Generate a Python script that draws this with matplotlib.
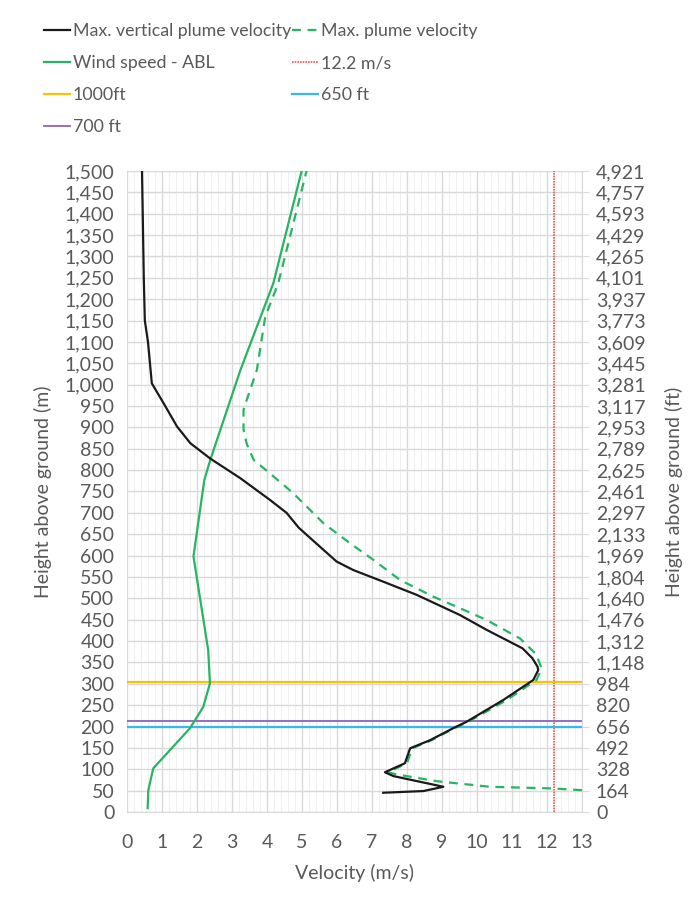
import numpy as np
import matplotlib.pyplot as plt
from matplotlib.ticker import MultipleLocator, FixedLocator, FuncFormatter

plt.rcParams['font.family'] = ['Lato', 'DejaVu Sans']

# Max. vertical plume velocity (m/s) vs height (m)
vert_h = [45, 49, 59, 84, 93, 114, 149, 168, 196, 211, 262, 309, 332, 340, 360, 383, 426,
          461, 508, 539, 566, 586, 621, 665, 700, 730, 781, 827, 863, 902, 956, 1003,
          1100, 1150, 1250, 1350, 1450, 1500]
vert_v = [7.32, 8.47, 9.04, 7.61, 7.37, 7.94, 8.09, 8.66, 9.32, 9.7, 10.75, 11.61, 11.75,
          11.73, 11.58, 11.3, 10.28, 9.51, 8.28, 7.32, 6.47, 5.99, 5.51, 4.91, 4.56, 4.09, 3.24,
          2.38, 1.81, 1.43, 1.05, 0.71, 0.6, 0.51, 0.48, 0.46, 0.44, 0.43]

# Max. plume velocity (m/s)
plume_h = [51, 55, 59, 72, 88, 93, 114, 149, 168, 196, 211, 262, 309, 336, 370, 406, 449,
           477, 504, 543, 590, 629, 676, 746, 785, 824, 862, 894, 941, 964, 1034, 1159,
           1237, 1500]
plume_v = [13.0, 12.18, 10.37, 8.85, 7.7, 7.45, 8.0, 8.15, 8.7, 9.35, 9.75, 10.85, 11.7,
           11.85, 11.68, 11.23, 10.28, 9.51, 8.75, 7.8, 7.04, 6.37, 5.61, 4.75, 4.19, 3.62, 3.42,
           3.33, 3.33, 3.42, 3.71, 3.95, 4.32, 5.13]

# Wind speed - ABL (m/s)
wind_h = [9, 51, 102, 196, 246, 301, 379, 598, 777, 824, 1034, 1237, 1500]
wind_v = [0.59, 0.61, 0.75, 1.8, 2.18, 2.37, 2.32, 1.9, 2.21, 2.38, 3.24, 4.18, 4.99]

limit_speed = 12.2
h_1000ft = 1000 * 0.3048
h_650ft = 650 * 0.3048
h_700ft = 700 * 0.3048

grey = '#595959'
fs = 14

fig = plt.figure(figsize=(6.95, 9), dpi=100)
ax = fig.add_axes([0.1827, 0.0978, 0.6547, 0.7122])

l_vert, = ax.plot(vert_v, vert_h, color='#1a1a1a', lw=1.6, label='Max. vertical plume velocity', zorder=5)
l_plume, = ax.plot(plume_v, plume_h, color='#27b463', lw=1.6, ls=(0, (4, 3)), label='Max. plume velocity', zorder=4)
l_wind, = ax.plot(wind_v, wind_h, color='#27b463', lw=1.6, label='Wind speed - ABL', zorder=4)
l_lim = ax.axvline(limit_speed, color='#ff5050', lw=1.2, ls=(0, (1, 0.6)), label='12.2 m/s', zorder=3)
l_1000 = ax.axhline(h_1000ft, color='#ffc000', lw=1.6, label='1000ft', zorder=3)
l_650 = ax.axhline(h_650ft, color='#36b9f2', lw=1.6, label='650 ft', zorder=3)
l_700 = ax.axhline(h_700ft, color='#8e63b8', lw=1.3, label='700 ft', zorder=3)

ax.set_xlim(0, 13)
ax.set_ylim(0, 1500)
ax.xaxis.set_major_locator(MultipleLocator(1))
ax.xaxis.set_minor_locator(MultipleLocator(0.2))
ax.yaxis.set_major_locator(MultipleLocator(50))
ax.yaxis.set_major_formatter(FuncFormatter(lambda v, p: f'{int(v):,}'))
ax.grid(which='major', color='#d9d9d9', lw=1.0)
ax.grid(which='minor', axis='x', color='#f0f0f0', lw=0.8)
ax.set_axisbelow(True)
for s in ['top', 'right', 'left']:
    ax.spines[s].set_visible(False)
ax.spines['bottom'].set_color('#d9d9d9')
ax.tick_params(which='both', length=0, colors=grey, labelsize=fs)
ax.tick_params(axis='x', pad=16)
ax.tick_params(axis='y', pad=9)
ax.set_xlabel('Velocity (m/s)', color=grey, fontsize=fs, labelpad=9)
ax.set_ylabel('Height above ground (m)', color=grey, fontsize=fs, labelpad=9)

ax2 = ax.twinx()
ax2.set_ylim(0, 1500)
ft_ticks = np.arange(0, 1501, 50)
ax2.yaxis.set_major_locator(FixedLocator(ft_ticks))
ax2.set_yticklabels([f'{int(round(m * 3.28084)):,}' for m in ft_ticks])
for s in ['top', 'left', 'bottom']:
    ax2.spines[s].set_visible(False)
ax2.spines['right'].set_color('#d9d9d9')
ax2.tick_params(length=5, color='#d9d9d9', colors=grey, labelsize=fs, pad=5)
ax2.set_ylabel('Height above ground (ft)', color=grey, fontsize=fs, labelpad=14)

# legend filled column by column: left column first, then right
handles = [l_vert, l_wind, l_1000, l_700, l_plume, l_lim, l_650]
labels = [h.get_label() for h in handles]
leg = fig.legend(handles, labels, loc='upper left', bbox_to_anchor=(0.064, 0.974), ncol=2,
                 frameon=False, fontsize=12.8, handlelength=1.45, handletextpad=0.15,
                 columnspacing=0.05, labelspacing=0.9, borderpad=0, borderaxespad=0)
for t in leg.get_texts():
    t.set_color(grey)

fig.savefig('out.png', dpi=100)
